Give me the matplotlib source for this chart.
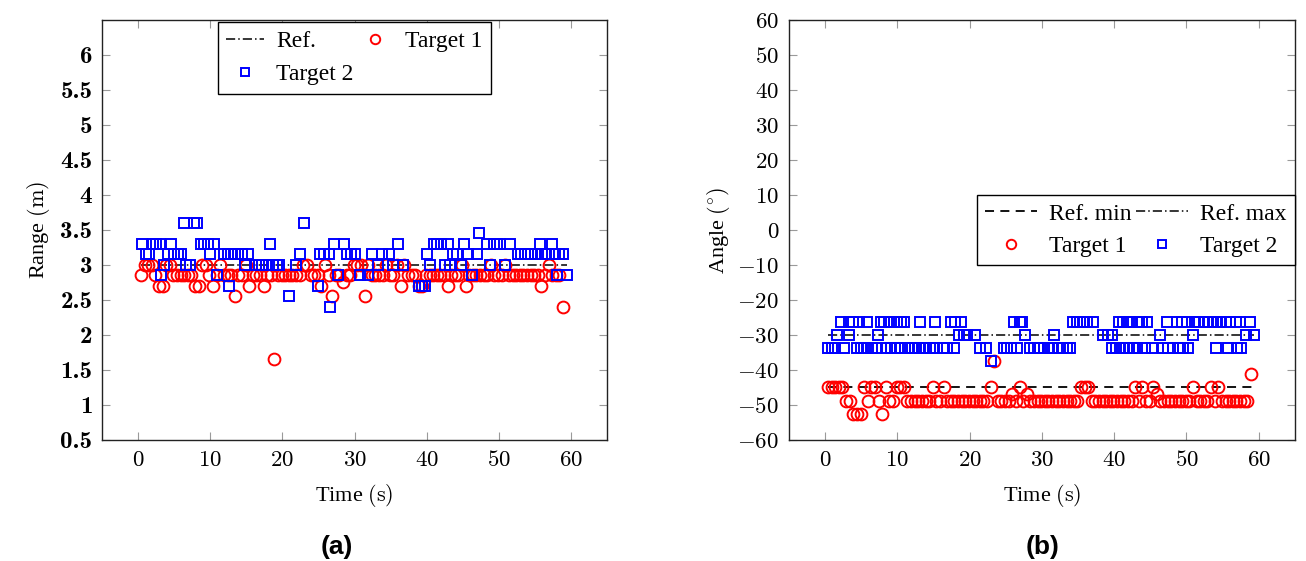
import matplotlib
matplotlib.use("Agg")
import matplotlib.pyplot as plt
from matplotlib.ticker import FuncFormatter

plt.rcParams['font.family'] = ['Liberation Serif', 'DejaVu Serif']
plt.rcParams['mathtext.fontset'] = 'cm'

# ---- data (a): range ----
t1_time = [0.4, 0.9, 1.4, 1.9, 2.4, 2.9, 3.4, 3.9, 4.4, 4.9, 5.4, 5.9, 6.4, 6.9, 7.4, 7.9, 8.4, 8.9, 9.4, 9.9,
           10.4, 10.9, 11.4, 11.9, 12.4, 12.9, 13.4, 13.9, 14.4, 14.9, 15.4, 15.9, 16.4, 16.9, 17.4, 17.9, 18.4, 18.9, 19.4, 19.9,
           20.4, 20.9, 21.4, 21.9, 22.4, 22.9, 23.4, 23.9, 24.4, 24.9, 25.4, 25.9, 26.4, 26.9, 27.4, 27.9, 28.4, 28.9, 29.4, 29.9,
           30.4, 30.9, 31.4, 31.9, 32.4, 32.9, 33.4, 33.9, 34.4, 34.9, 35.4, 35.9, 36.4, 36.9, 37.4, 37.9, 38.4, 38.9, 39.4, 39.9,
           40.4, 40.9, 41.4, 41.9, 42.4, 42.9, 43.4, 43.9, 44.4, 44.9, 45.4, 45.9, 46.4, 46.9, 47.4, 47.9, 48.4, 48.9, 49.4, 49.9,
           50.4, 50.9, 51.4, 51.9, 52.4, 52.9, 53.4, 53.9, 54.4, 54.9, 55.4, 55.9, 56.4, 56.9, 57.4, 57.9, 58.4, 58.9]
t1_range = [2.85, 3.0, 3.0, 3.0, 2.85, 2.7, 2.7, 3.0, 3.0, 2.85, 2.85, 2.85, 2.85, 2.85, 2.85, 2.7, 2.7, 3.0, 3.0, 2.85,
            2.7, 2.85, 3.0, 2.85, 2.85, 2.85, 2.55, 2.85, 2.85, 3.0, 2.7, 2.85, 2.85, 2.85, 2.7, 2.85, 2.85, 1.65, 2.85, 2.85,
            2.85, 2.85, 2.85, 2.85, 2.85, 3.0, 3.0, 2.85, 2.85, 2.85, 2.7, 3.0, 2.85, 2.55, 2.85, 2.85, 2.75, 2.85, 2.85, 3.0,
            3.0, 3.0, 2.55, 3.0, 2.85, 2.85, 2.85, 2.85, 3.0, 2.85, 2.85, 3.0, 2.7, 3.0, 2.85, 2.85, 2.85, 2.7, 2.7, 2.85,
            2.85, 2.85, 2.85, 2.85, 2.85, 2.7, 2.85, 2.85, 2.85, 3.0, 2.7, 2.85, 2.85, 2.85, 2.85, 2.85, 2.85, 3.0, 2.85, 2.85,
            2.85, 3.0, 2.85, 2.85, 2.85, 2.85, 2.85, 2.85, 2.85, 2.85, 2.85, 2.7, 2.85, 3.0, 2.85, 2.85, 2.85, 2.4]

t2_time = [0.6, 1.1, 1.5, 2.0, 2.5, 3.0, 3.2, 3.6, 4.1, 4.6, 5.0, 5.5, 6.0, 6.3, 6.7, 7.2, 7.7, 8.2, 8.7, 9.2,
           9.7, 10.0, 10.5, 11.0, 11.9, 12.4, 12.6, 12.9, 13.4, 13.9, 14.4, 14.8, 15.2, 16.3, 16.8, 17.2, 17.7, 18.3, 18.7, 19.2,
           19.5, 20.9, 21.9, 22.4, 23.0, 25.0, 25.2, 25.8, 26.4, 26.6, 27.1, 27.7, 28.6, 28.9, 29.5, 30.1, 30.8, 31.8, 32.4, 33.3,
           33.8, 34.8, 35.4, 36.0, 36.7, 39.0, 39.4, 39.8, 40.0, 40.5, 41.0, 41.5, 42.0, 42.5, 42.9, 43.3, 43.7, 44.2, 44.7, 45.2,
           45.7, 46.3, 47.0, 47.3, 48.4, 48.8, 49.3, 49.7, 50.2, 50.9, 51.6, 52.7, 53.1, 53.6, 54.0, 54.5, 55.0, 55.4, 55.7, 56.0,
           56.5, 57.4, 57.8, 58.0, 58.4, 58.9, 59.4]
t2_range = [3.3, 3.15, 3.15, 3.3, 3.3, 3.3, 2.85, 3.0, 3.15, 3.3, 3.15, 3.15, 3.15, 3.6, 3.0, 3.0, 3.6, 3.6, 3.3, 3.3,
            3.3, 3.15, 3.3, 2.85, 3.15, 3.15, 2.7, 3.15, 3.15, 3.15, 3.15, 3.0, 3.15, 3.0, 3.0, 3.0, 3.0, 3.3, 3.0, 3.0,
            3.0, 2.55, 3.0, 3.15, 3.6, 2.7, 3.15, 3.15, 3.15, 2.4, 3.3, 2.85, 3.3, 3.15, 3.15, 3.15, 2.85, 2.85, 3.15, 3.0,
            3.15, 3.15, 3.0, 3.3, 3.0, 2.7, 2.7, 2.7, 3.15, 3.0, 3.3, 3.3, 3.3, 3.0, 3.3, 3.0, 3.15, 3.15, 3.0, 3.3,
            3.15, 2.85, 3.15, 3.45, 3.3, 3.0, 3.3, 3.3, 3.3, 3.0, 3.3, 3.15, 3.15, 3.15, 3.15, 3.15, 3.15, 3.15, 3.3, 3.15,
            3.15, 3.3, 3.15, 2.85, 3.15, 3.15, 2.85]

ref_time = [0.4, 59.4]
ref_range = [3.0, 3.0]

# ---- data (b): angle ----
a1_time = t1_time
a1_angle = [-45, -45, -45, -45, -45, -48.75, -48.75, -52.5, -52.5, -52.5, -45, -48.75, -45, -45, -48.75, -52.5, -45, -48.75, -48.75, -45,
            -45, -45, -48.75, -48.75, -48.75, -48.75, -48.75, -48.75, -48.75, -45, -48.75, -48.75, -45, -48.75, -48.75, -48.75, -48.75, -48.75, -48.75, -48.75,
            -48.75, -48.75, -48.75, -48.75, -48.75, -45, -37.5, -48.75, -48.75, -48.75, -48.75, -47, -48.75, -45, -48.75, -47, -48.75, -48.75, -48.75, -48.75,
            -48.75, -48.75, -48.75, -48.75, -48.75, -48.75, -48.75, -48.75, -48.75, -48.75, -45, -45, -45, -48.75, -48.75, -48.75, -48.75, -48.75, -48.75, -48.75,
            -48.75, -48.75, -48.75, -48.75, -48.75, -45, -48.75, -45, -48.75, -48.75, -45, -47, -48.75, -48.75, -48.75, -48.75, -48.75, -48.75, -48.75, -48.75,
            -48.75, -45, -48.75, -48.75, -48.75, -48.75, -45, -48.75, -45, -48.75, -48.75, -48.75, -48.75, -48.75, -48.75, -48.75, -48.75, -41.25]

a2_time = [0.4, 0.9, 1.4, 1.7, 2.2, 2.6, 3.3, 3.3, 3.8, 4.4, 4.7, 4.9, 5.4, 5.8, 6.0, 6.5, 7.0, 7.3, 7.7, 8.2,
           8.6, 8.8, 9.1, 9.5, 9.7, 10.0, 10.3, 10.5, 10.9, 11.0, 11.5, 12.0, 12.5, 13.0, 13.1, 13.5, 14.0, 14.5, 15.0, 15.2,
           16.3, 16.8, 17.4, 17.8, 18.0, 18.5, 18.8, 19.2, 19.7, 20.8, 21.5, 22.2, 22.9, 24.7, 25.2, 25.7, 26.1, 26.6, 26.9, 27.3,
           27.7, 28.4, 28.9, 29.4, 29.8, 30.3, 30.8, 31.4, 31.7, 32.4, 32.9, 33.4, 33.9, 34.3, 34.8, 35.3, 35.8, 36.3, 37.0, 38.5,
           39.1, 39.7, 39.7, 40.2, 40.6, 40.8, 41.2, 41.4, 41.8, 42.0, 42.3, 42.6, 43.2, 43.4, 43.9, 44.2, 44.5, 45.2, 46.3, 46.8,
           47.3, 47.5, 48.2, 48.7, 49.1, 49.4, 49.5, 50.1, 50.2, 50.9, 51.2, 51.8, 52.4, 53.0, 53.6, 54.1, 54.2, 54.8, 55.4, 55.7,
           56.0, 56.8, 57.0, 57.4, 57.6, 58.3, 58.8, 59.4]
a2_angle = [-33.75, -33.75, -33.75, -30, -26.25, -33.75, -30, -26.25, -26.25, -33.75, -26.25, -33.75, -33.75, -26.25, -33.75, -33.75, -33.75, -30, -26.25, -26.25,
            -33.75, -26.25, -33.75, -26.25, -33.75, -26.25, -33.75, -26.25, -26.25, -33.75, -33.75, -33.75, -33.75, -33.75, -26.25, -33.75, -33.75, -33.75, -33.75, -26.25,
            -33.75, -33.75, -26.25, -33.75, -26.25, -30, -26.25, -30, -30, -30, -33.75, -33.75, -37.5, -33.75, -33.75, -33.75, -26.25, -33.75, -26.25, -26.25,
            -30, -33.75, -33.75, -33.75, -33.75, -33.75, -33.75, -33.75, -30, -33.75, -33.75, -33.75, -33.75, -26.25, -26.25, -26.25, -26.25, -26.25, -26.25, -30,
            -30, -30, -33.75, -33.75, -26.25, -33.75, -26.25, -33.75, -26.25, -33.75, -26.25, -33.75, -33.75, -26.25, -26.25, -33.75, -26.25, -33.75, -30, -33.75,
            -26.25, -33.75, -33.75, -26.25, -33.75, -26.25, -33.75, -26.25, -33.75, -30, -26.25, -26.25, -26.25, -26.25, -26.25, -33.75, -26.25, -26.25, -26.25, -33.75,
            -26.25, -26.25, -33.75, -26.25, -33.75, -30, -26.25, -30]

ref_min = [-45, -45]
ref_max = [-30, -30]

xticks = [0, 10, 20, 30, 40, 50, 60]
range_ticks = [0.5, 1, 1.5, 2, 2.5, 3, 3.5, 4, 4.5, 5, 5.5, 6]
angle_ticks = [-60, -50, -40, -30, -20, -10, 0, 10, 20, 30, 40, 50, 60]


def style_axes(ax):
    for s in ax.spines.values():
        s.set_color('#222222')
        s.set_linewidth(1.0)
    ax.tick_params(direction='in', length=6, width=0.8, color='#9a9a9a',
                   top=True, right=True, labelsize=16.5, pad=7)
    ax.set_xlim(-5, 65)
    ax.set_xticks(xticks)
    ax.xaxis.set_major_formatter(FuncFormatter(lambda v, p: r'$%g$' % v))
    ax.set_xlabel(r'Time $(\mathrm{s})$', fontsize=16, labelpad=8)


fig = plt.figure(figsize=(13.06, 5.61), dpi=100)
ax1 = fig.add_axes([0.0781, 0.2157, 0.3867, 0.7487])
ax2 = fig.add_axes([0.6041, 0.2157, 0.3874, 0.7487])

mk = dict(linestyle='none', markerfacecolor='none')
dashdot = (0, (6, 2, 1, 2))

# (a)
h_ref, = ax1.plot(ref_time, ref_range, color='black', lw=1.1, linestyle=dashdot, label='Ref.')
h_t1, = ax1.plot(t1_time, t1_range, marker='o', markersize=8.5, markeredgewidth=1.4,
                 markeredgecolor='red', label='Target 1', **mk)
h_t2, = ax1.plot(t2_time, t2_range, marker='s', markersize=6.5, markeredgewidth=1.4,
                 markeredgecolor='blue', label='Target 2', **mk)
style_axes(ax1)
ax1.set_ylim(0.5, 6.5)
ax1.set_yticks(range_ticks)
ax1.set_yticklabels(['%g' % v for v in range_ticks], family='cmb10', fontsize=18)
ax1.set_ylabel(r'Range $(\mathrm{m})$', fontsize=16, labelpad=6)
leg1 = ax1.legend([h_ref, h_t2, h_t1], ['Ref.', 'Target 2', 'Target 1'], ncol=2,
                  loc='upper center', bbox_to_anchor=(0.5, 1.0), fontsize=17,
                  fancybox=False, edgecolor='black', framealpha=1, borderaxespad=0.1,
                  handlelength=1.6, columnspacing=0.1, handletextpad=0.5,
                  borderpad=0.35, labelspacing=0.5, markerscale=0.8)
leg1.get_frame().set_linewidth(1.0)

# (b)
h_min, = ax2.plot(ref_time, ref_min, color='black', lw=1.3, linestyle=(0, (5, 3.5)), label='Ref. min')
h_max, = ax2.plot(ref_time, ref_max, color='black', lw=1.1, linestyle=dashdot, label='Ref. max')
h_a1, = ax2.plot(a1_time, a1_angle, marker='o', markersize=8.5, markeredgewidth=1.4,
                 markeredgecolor='red', label='Target 1', **mk)
h_a2, = ax2.plot(a2_time, a2_angle, marker='s', markersize=6.5, markeredgewidth=1.4,
                 markeredgecolor='blue', label='Target 2', **mk)
style_axes(ax2)
ax2.set_ylim(-60, 60)
ax2.set_yticks(angle_ticks)
ax2.yaxis.set_major_formatter(FuncFormatter(lambda v, p: r'$%g$' % v))
ax2.set_ylabel(r'Angle $(^{\circ})$', fontsize=16, labelpad=4)
leg2 = ax2.legend([h_min, h_a1, h_max, h_a2], ['Ref. min', 'Target 1', 'Ref. max', 'Target 2'], ncol=2,
                  loc='center right', bbox_to_anchor=(1.0, 0.5), fontsize=17,
                  fancybox=False, edgecolor='black', framealpha=1, borderaxespad=0.0,
                  handlelength=2.2, columnspacing=0.2, handletextpad=0.5,
                  borderpad=0.35, labelspacing=0.45, markerscale=0.8)
leg2.get_frame().set_linewidth(1.0)

fig.text(0.258, 0.012, '(a)', fontsize=19, fontweight='bold', family='Liberation Sans', ha='center')
fig.text(0.798, 0.012, '(b)', fontsize=19, fontweight='bold', family='Liberation Sans', ha='center')

fig.savefig('out.png', dpi=100)
